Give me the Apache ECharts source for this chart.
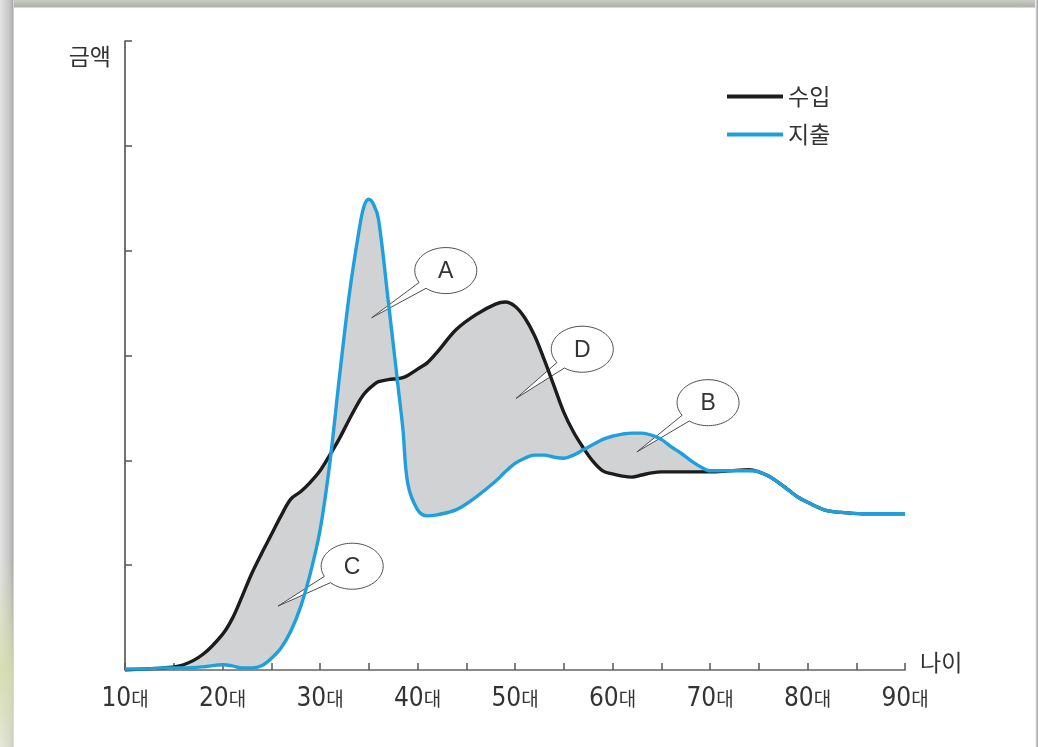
<!DOCTYPE html>
<html>
<head>
<meta charset="utf-8">
<title>연령대별 수입과 지출</title>
<script src="https://cdn.jsdelivr.net/npm/echarts@6/dist/echarts.min.js"></script>
<style>
  html, body { margin: 0; padding: 0; background: #ffffff; }
  #chart { position: absolute; left: 0; top: 0; width: 1038px; height: 747px; }
  .edge { position: absolute; pointer-events: none; }
</style>
</head>
<body>
<div id="chart"></div>
<div class="edge" style="left:0;top:0;width:1038px;height:8px;background:linear-gradient(to bottom,#c9ccc4,#aeb2a9 80%,#e6e8e3);"></div>
<div class="edge" style="left:0;top:0;width:14px;height:747px;background:linear-gradient(to right,#e4e4e4,#c4c4c4 70%,#aaaaaa 92%,#f2f2f2);"></div>
<div class="edge" style="left:0;top:560px;width:14px;height:187px;background:linear-gradient(to bottom,rgba(214,222,180,0),rgba(214,222,170,0.85) 60%,rgba(230,234,210,0.6));"></div>
<div class="edge" style="left:1035px;top:0;width:3px;height:747px;background:linear-gradient(to right,#ffffff,#9a9a9a);"></div>
<script>
// 나이 (세)
const ages = [10, 12, 14, 16, 18, 20, 21, 22, 23, 24, 25, 26, 27, 28, 29, 30, 31, 32, 33, 34,
  34.5, 35, 35.5, 36, 37, 38, 38.5, 39, 40, 41, 42, 44, 46, 48,
  49, 50, 51, 52, 53, 54, 55, 56, 57, 58, 59, 60, 61, 62, 63, 64, 65, 66, 67, 68, 69, 70,
  72, 74, 75, 76, 77, 78, 79, 80, 82, 84, 86, 88, 90];

// 수입
const income = [0, 0.01, 0.02, 0.05, 0.15, 0.34, 0.49, 0.70, 0.92, 1.11, 1.29, 1.47, 1.63, 1.70, 1.79, 1.90, 2.05, 2.21, 2.39, 2.56,
  2.63, 2.68, 2.72, 2.75, 2.77, 2.78, 2.79, 2.81, 2.87, 2.93, 3.03, 3.25, 3.39, 3.49,
  3.51, 3.47, 3.36, 3.19, 2.96, 2.71, 2.46, 2.27, 2.12, 1.99, 1.90, 1.87, 1.85, 1.84, 1.86, 1.88, 1.89, 1.89, 1.89, 1.89, 1.89, 1.89,
  1.90, 1.91, 1.89, 1.85, 1.79, 1.72, 1.65, 1.60, 1.52, 1.50, 1.49, 1.49, 1.49];

// 지출
const expense = [0.01, 0.01, 0.02, 0.02, 0.03, 0.05, 0.04, 0.02, 0.02, 0.04, 0.11, 0.21, 0.37, 0.60, 0.92, 1.33, 1.97, 2.80, 3.58, 4.19,
  4.42, 4.49, 4.44, 4.30, 3.52, 2.71, 2.30, 1.78, 1.53, 1.47, 1.48, 1.53, 1.65, 1.80,
  1.89, 1.97, 2.02, 2.05, 2.05, 2.03, 2.02, 2.05, 2.10, 2.15, 2.20, 2.23, 2.25, 2.26, 2.26, 2.24, 2.20, 2.13, 2.07, 2.00, 1.94, 1.90,
  1.90, 1.90, 1.89, 1.85, 1.79, 1.72, 1.65, 1.60, 1.52, 1.50, 1.49, 1.49, 1.49];

// x축 눈금 라벨 (10세 단위)
const decadeLabels = ['10대', '20대', '30대', '40대', '50대', '60대', '70대', '80대', '90대'];

// 말풍선: 이름, 가리키는 지점 [나이, 금액], 풍선 중심 [나이, 금액]
const calloutNames = ['A', 'D', 'B', 'C'];
const calloutTips = [[35.3, 3.36], [50.1, 2.59], [62.5, 2.08], [25.7, 0.61]];
const calloutCenters = [[42.9, 3.81], [56.9, 3.06], [69.8, 2.55], [33.3, 0.99]];

const SMOOTH = 0.35;
const KR = '"Noto Sans CJK KR", "Noto Sans", sans-serif';
const NARROW = '"Liberation Sans Narrow", "DejaVu Sans Condensed", sans-serif';

// 두 곡선 사이 면적: 위쪽 곡선 아래를 회색으로 칠한 뒤 아래쪽 곡선 아래를 흰색으로 덮는다
const upperEdge = ages.map((a, i) => [a, Math.max(income[i], expense[i])]);
const lowerEdge = ages.map((a, i) => [a, Math.min(income[i], expense[i])]);

const chart = echarts.init(document.getElementById('chart'), null, { renderer: 'canvas' });

const option = {
  animation: false,
  backgroundColor: '#ffffff',
  grid: { left: 125, right: 133, top: 41, bottom: 77 },
  legend: {
    data: ['수입', '지출'],
    orient: 'vertical',
    left: 722,
    top: 80,
    icon: 'rect',
    itemWidth: 56,
    itemHeight: 4,
    itemGap: 15,
    selectedMode: false,
    textStyle: { fontSize: 23, color: '#333333', fontFamily: KR, lineHeight: 22 }
  },
  xAxis: {
    type: 'value',
    min: 10,
    max: 90,
    interval: 5,
    z: 2,
    name: '나이',
    nameLocation: 'end',
    nameGap: 15,
    nameTextStyle: { fontSize: 23, color: '#333333', fontFamily: KR, verticalAlign: 'bottom', lineHeight: 16 },
    axisLine: { show: true, lineStyle: { color: '#8a8a8a', width: 2 } },
    axisTick: { show: true, inside: true, length: 7, lineStyle: { color: '#555555', width: 1.5 } },
    splitLine: { show: false },
    axisLabel: {
      margin: 16,
      color: '#333333',
      formatter: function (v) {
        const idx = (v - 10) / 10;
        if (!Number.isInteger(idx) || !decadeLabels[idx]) return '';
        const s = decadeLabels[idx];
        return '{n|' + s.slice(0, -1) + '}{d|' + s.slice(-1) + '}';
      },
      rich: {
        n: { fontFamily: NARROW, fontSize: 26, color: '#333333', lineHeight: 26 },
        d: { fontFamily: KR, fontSize: 19, color: '#333333', lineHeight: 26 }
      }
    }
  },
  yAxis: {
    type: 'value',
    min: 0,
    max: 6,
    interval: 1,
    z: 2,
    name: '금액',
    nameLocation: 'end',
    nameGap: -15,
    nameTextStyle: { fontSize: 23, color: '#333333', fontFamily: KR, align: 'right', verticalAlign: 'middle', padding: [0, 14, 0, 0] },
    axisLine: { show: true, lineStyle: { color: '#444444', width: 1.5 } },
    axisTick: { show: true, inside: true, length: 7, lineStyle: { color: '#555555', width: 1.5 } },
    axisLabel: { show: false },
    splitLine: { show: false }
  },
  series: [
    {
      name: 'upperEdge',
      type: 'line',
      data: upperEdge,
      smooth: SMOOTH,
      showSymbol: false,
      silent: true,
      lineStyle: { opacity: 0 },
      areaStyle: { color: '#d1d2d4', opacity: 1 },
      z: 1
    },
    {
      name: 'lowerEdge',
      type: 'line',
      data: lowerEdge,
      smooth: SMOOTH,
      showSymbol: false,
      silent: true,
      lineStyle: { opacity: 0 },
      areaStyle: { color: '#ffffff', opacity: 1 },
      z: 1
    },
    {
      name: 'callouts',
      type: 'custom',
      silent: true,
      z: 3,
      data: calloutTips.map((t, i) => [t[0], t[1], calloutCenters[i][0], calloutCenters[i][1]]),
      renderItem: function (params, api) {
        const i = params.dataIndex;
        const tip = api.coord([api.value(0), api.value(1)]);
        const c = api.coord([api.value(2), api.value(3)]);
        const rx = 31, ry = 23;
        const t0 = Math.atan2((tip[1] - c[1]) / ry, (tip[0] - c[0]) / rx);
        const half = 0.17;
        const n = 90;
        const pts = [];
        for (let k = 0; k <= n; k++) {
          const t = t0 + half + (2 * Math.PI - 2 * half) * k / n;
          pts.push([c[0] + rx * Math.cos(t), c[1] + ry * Math.sin(t)]);
        }
        pts.push(tip);
        return {
          type: 'group',
          children: [
            { type: 'polygon', shape: { points: pts }, style: { fill: '#ffffff', stroke: '#4d4d4d', lineWidth: 1 } },
            {
              type: 'text', x: c[0], y: c[1] + 1,
              style: { text: calloutNames[i], fill: '#333333', font: '23px "Liberation Sans", "Noto Sans", sans-serif', align: 'center', verticalAlign: 'middle' }
            }
          ]
        };
      }
    },
    {
      name: '수입',
      type: 'line',
      data: ages.map((a, i) => [a, income[i]]),
      smooth: SMOOTH,
      showSymbol: false,
      color: '#1c1c1c',
      lineStyle: { color: '#1c1c1c', width: 3.4 },
      z: 4
    },
    {
      name: '지출',
      type: 'line',
      data: ages.map((a, i) => [a, expense[i]]),
      smooth: SMOOTH,
      showSymbol: false,
      color: '#1fa0dc',
      lineStyle: { color: '#1fa0dc', width: 3.4 },
      z: 5
    }
  ]
};

chart.setOption(option);
</script>
</body>
</html>
